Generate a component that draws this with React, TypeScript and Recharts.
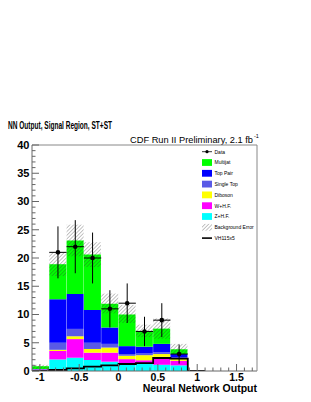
import React from 'react';
import { ComposedChart, Bar, Line, Scatter, ErrorBar, XAxis, YAxis, Legend } from 'recharts';

// ---- histogram bins (bin width 0.22, axis shows -1.1 .. 1.76) ----
const binCenters = [-0.99, -0.77, -0.55, -0.33, -0.11, 0.11, 0.33, 0.55, 0.77, 0.99, 1.21, 1.43, 1.65];
const binEdges = [-1.1, -0.88, -0.66, -0.44, -0.22, 0, 0.22, 0.44, 0.66, 0.88, 1.1];

// ---- stacked backgrounds (bottom to top) ----
const zhf = [0.05, 2.05, 2.35, 1.95, 1.65, 1.4, 1.3, 1.1, 1.0, 0, 0, 0, 0];
const whf = [0.2, 1.5, 3.3, 1.3, 1.6, 0.7, 0.6, 1.4, 0.8, 0, 0, 0, 0];
const diboson = [0.02, 0.2, 0.5, 0.65, 0.9, 0.6, 0.9, 0.5, 0.45, 0, 0, 0, 0];
const singleTop = [0.03, 1.25, 1.3, 1.1, 0.65, 0.3, 0.3, 0.3, 0.15, 0, 0, 0, 0];
const topPair = [0.05, 7.7, 6.2, 5.8, 2.9, 1.4, 1.2, 1.5, 0.6, 0, 0, 0, 0];
const multijet = [0.5, 6.2, 9.45, 9.8, 4.2, 5.6, 2.8, 2.7, 0.85, 0.05, 0, 0, 0];

// ---- background error band ----
const bgErrLow = [0.3, 16.8, 20.3, 18.4, 10.2, 8.5, 6.0, 5.7, 3.0, null, null, null, null];
const bgErrHigh = [1.1, 21.0, 25.9, 22.8, 13.7, 11.7, 8.2, 9.3, 4.8, null, null, null, null];

// ---- signal VH115 x5 (per bin, from left edge) ----
const signal = [0.02, 0.18, 0.47, 0.77, 1.0, 1.24, 1.4, 2.3, 2.2, 0.03];

// ---- data ----
const dataX = [-0.77, -0.55, -0.33, -0.11, 0.11, 0.33, 0.55, 0.77];
const dataY = [21, 22, 20, 11, 12, 7, 9, 3];
const dataYErr = [4.6, 4.7, 4.5, 3.3, 3.5, 2.6, 3.0, 1.7];
const dataXErr = [0.11, 0.11, 0.11, 0.11, 0.11, 0.11, 0.11, 0.11];

// ---- ticks ----
const yMajorTicks = [0, 5, 10, 15, 20, 25, 30, 35, 40];
const yTickLabels = ['0', '5', '10', '15', '20', '25', '30', '35', '40'];
const xMajorTicks = [-1, -0.5, 0, 0.5, 1, 1.5];
const xTickLabels = ['-1', '-0.5', '0', '0.5', '1', '1.5'];

const legendNames = ['Data', 'Multijat', 'Top Pair', 'Single Top', 'Diboson', 'W+H.F.', 'Z+H.F.', 'Background Error', 'VH115x5'];
const colors = {
  zhf: '#00ffff',
  whf: '#ff00ff',
  diboson: '#ffff00',
  singleTop: '#5a5ae6',
  topPair: '#0000ff',
  multijet: '#00ff00',
};

const yAllTicks = Array.from({ length: 41 }, (_, i) => i);
const xAllTicks = Array.from({ length: 28 }, (_, i) => Math.round((-1 + i * 0.1) * 10) / 10);

const histRows = binCenters.map((c, i) => ({
  bin: String(c),
  zhf: zhf[i],
  whf: whf[i],
  diboson: diboson[i],
  singleTop: singleTop[i],
  topPair: topPair[i],
  multijet: multijet[i],
  band: bgErrLow[i] === null ? null : [bgErrLow[i], bgErrHigh[i]],
}));

const signalPoints = binEdges.map((e, i) => ({ x: e, s: i < signal.length ? signal[i] : signal[signal.length - 1] }));
const dataPoints = dataX.map((x, i) => ({ x, y: dataY[i], ex: dataXErr[i], ey: dataYErr[i] }));

const FONT = '"Liberation Sans", Arial, Helvetica, sans-serif';

const YTick = (props: any) => {
  const { x, y, payload } = props;
  const idx = yMajorTicks.indexOf(payload.value);
  const major = idx >= 0;
  return (
    <g>
      <line x1={x} x2={x + (major ? 7 : 3.5)} y1={y} y2={y} stroke="#666" strokeWidth={1} />
      {major && (
        <text x={x - 2.5} y={y + 3.9} textAnchor="end" fontSize={11} fontWeight="bold" fill="#000" fontFamily={FONT}>
          {yTickLabels[idx]}
        </text>
      )}
    </g>
  );
};

const XTick = (props: any) => {
  const { x, y, payload } = props;
  const idx = xMajorTicks.findIndex((t) => Math.abs(t - payload.value) < 1e-6);
  const major = idx >= 0;
  return (
    <g>
      <line x1={x} x2={x} y1={y} y2={y - (major ? 7 : 3.5)} stroke="#666" strokeWidth={1} />
      {major && (
        <text x={x} y={y + 9.5} textAnchor="middle" fontSize={10.5} fontWeight="bold" fill="#000" fontFamily={FONT}>
          {xTickLabels[idx]}
        </text>
      )}
    </g>
  );
};

const swatchFills = [null, colors.multijet, colors.topPair, colors.singleTop, colors.diboson, colors.whf, colors.zhf, 'url(#hatch)', null];

const LegendBox = () => {
  const step = 10.8;
  return (
    <svg width={100} height={100} style={{ display: 'block' }}>
      {legendNames.map((name, i) => {
        const cy = 5.7 + i * step;
        let mark: React.ReactNode = null;
        if (i === 0) {
          mark = (
            <g>
              <line x1={4} x2={14} y1={cy} y2={cy} stroke="#000" strokeWidth={0.8} />
              <circle cx={9} cy={cy} r={1.6} fill="#000" />
            </g>
          );
        } else if (i === legendNames.length - 1) {
          mark = <line x1={4} x2={14} y1={cy} y2={cy} stroke="#000" strokeWidth={1.6} />;
        } else {
          mark = <rect x={4} y={cy - 3.4} width={10} height={6.8} fill={swatchFills[i] as string} />;
        }
        return (
          <g key={name}>
            {mark}
            <text x={16.5} y={cy + 1.8} fontSize={5} fill="#000" fontFamily={FONT}>
              {name}
            </text>
          </g>
        );
      })}
    </svg>
  );
};

export default function App() {
  return (
    <div style={{ position: 'absolute', left: 0, top: 0, width: 311, height: 402, background: '#fff', fontFamily: FONT }}>
      <svg width={0} height={0} style={{ position: 'absolute' }}>
        <defs>
          <pattern id="hatch" patternUnits="userSpaceOnUse" width={2.6} height={2.6} patternTransform="rotate(45)">
            <line x1={0} y1={0} x2={0} y2={2.6} stroke="#333" strokeWidth={0.6} />
          </pattern>
        </defs>
      </svg>
      <svg width={311} height={402} style={{ position: 'absolute', left: 0, top: 0, pointerEvents: 'none' }}>
        <text x={8} y={128.5} fontSize={10} fontWeight="bold" fill="#000" textLength={104} lengthAdjust="spacingAndGlyphs" fontFamily={FONT}>
          NN Output, Signal Region, ST+ST
        </text>
        <text x={130} y={142.5} fontSize={9} fill="#000" textLength={123} lengthAdjust="spacingAndGlyphs" fontFamily={FONT}>
          CDF Run II Preliminary, 2.1 fb
        </text>
        <text x={254} y={138} fontSize={5.5} fill="#000" fontFamily={FONT}>
          -1
        </text>
        <text x={257} y={392} fontSize={10.5} fontWeight="bold" textAnchor="end" fill="#000" fontFamily={FONT}>
          Neural Network Output
        </text>
      </svg>
      <div style={{ position: 'absolute', left: 0, top: 0 }}>
        <ComposedChart
          width={311}
          height={402}
          data={histRows}
          margin={{ top: 144, right: 53, bottom: 0, left: 0 }}
          barCategoryGap={0}
          barGap={0}
        >
          <XAxis
            xAxisId="num"
            type="number"
            dataKey="x"
            domain={[-1.1, 1.76]}
            allowDataOverflow
            ticks={xAllTicks}
            interval={0}
            tick={<XTick />}
            tickLine={false}
            tickSize={0}
            tickMargin={0}
            axisLine={{ stroke: '#666' }}
            height={31}
          />
          <XAxis xAxisId="cat" dataKey="bin" type="category" hide height={0} />
          <XAxis xAxisId="cat2" dataKey="bin" type="category" hide height={0} />
          <XAxis
            xAxisId="top"
            orientation="top"
            type="number"
            domain={[0, 1]}
            height={1}
            tick={false}
            tickLine={false}
            axisLine={{ stroke: '#888' }}
          />
          <YAxis
            type="number"
            domain={[0, 40]}
            allowDataOverflow
            ticks={yAllTicks}
            interval={0}
            tick={<YTick />}
            tickLine={false}
            tickSize={0}
            tickMargin={0}
            axisLine={{ stroke: '#666' }}
            width={32}
          />
          <YAxis
            yAxisId="right"
            orientation="right"
            type="number"
            domain={[0, 1]}
            width={1}
            tick={false}
            tickLine={false}
            axisLine={{ stroke: '#888' }}
          />
          <Bar xAxisId="cat" dataKey="zhf" stackId="bg" fill={colors.zhf} isAnimationActive={false} />
          <Bar xAxisId="cat" dataKey="whf" stackId="bg" fill={colors.whf} isAnimationActive={false} />
          <Bar xAxisId="cat" dataKey="diboson" stackId="bg" fill={colors.diboson} isAnimationActive={false} />
          <Bar xAxisId="cat" dataKey="singleTop" stackId="bg" fill={colors.singleTop} isAnimationActive={false} />
          <Bar xAxisId="cat" dataKey="topPair" stackId="bg" fill={colors.topPair} isAnimationActive={false} />
          <Bar xAxisId="cat" dataKey="multijet" stackId="bg" fill={colors.multijet} isAnimationActive={false} />
          <Bar xAxisId="cat2" dataKey="band" fill="url(#hatch)" isAnimationActive={false} />
          <Line
            xAxisId="num"
            data={signalPoints}
            dataKey="s"
            type="stepAfter"
            stroke="#000"
            strokeWidth={1.8}
            dot={false}
            activeDot={false}
            isAnimationActive={false}
          />
          <Scatter
            xAxisId="num"
            data={dataPoints}
            dataKey="y"
            fill="#000"
            isAnimationActive={false}
            shape={(p: any) => <circle cx={p.cx} cy={p.cy} r={2.3} fill="#000" />}
          >
            <ErrorBar dataKey="ey" direction="y" width={0} stroke="#000" strokeWidth={1} isAnimationActive={false} />
            <ErrorBar dataKey="ex" direction="x" width={0} stroke="#000" strokeWidth={1} isAnimationActive={false} />
          </Scatter>
          <Legend
            layout="vertical"
            align="center"
            verticalAlign="middle"
            wrapperStyle={{ position: 'absolute', left: 198, top: 146, width: 100, height: 100 }}
            content={() => <LegendBox />}
          />
        </ComposedChart>
      </div>
    </div>
  );
}
